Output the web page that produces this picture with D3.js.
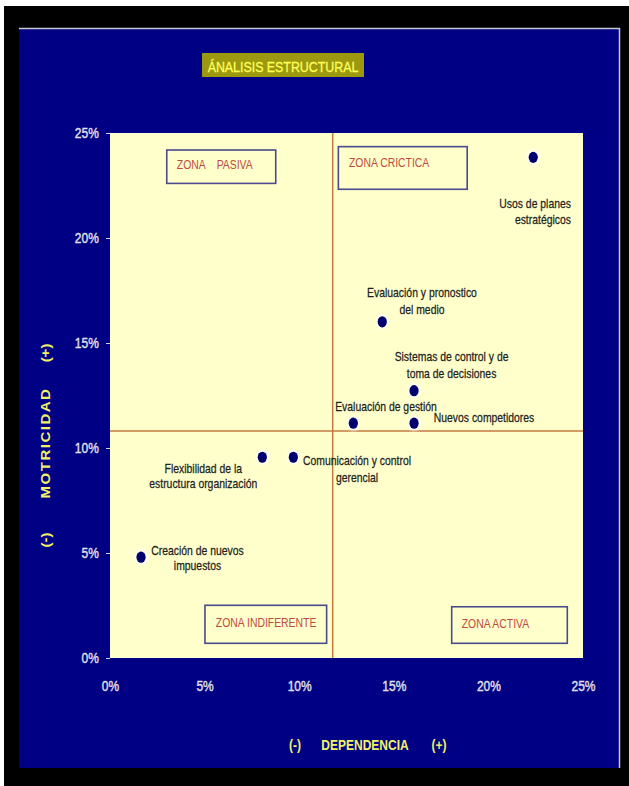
<!DOCTYPE html>
<html>
<head>
<meta charset="utf-8">
<script src="https://cdn.jsdelivr.net/npm/d3@7"></script>
<style>
  body { margin: 0; background: #ffffff; }
  svg { display: block; }
</style>
</head>
<body>
<svg id="chart" width="629" height="786"></svg>
<script>
// Factores del análisis estructural (dependencia vs. motricidad, en %)
const factors = [
  "Usos de planes\nestratégicos",
  "Evaluación y pronostico\ndel medio",
  "Sistemas de control y de\ntoma de decisiones",
  "Evaluación de gestión",
  "Nuevos competidores",
  "Comunicación y control\ngerencial",
  "Flexibilidad de la\nestructura organización",
  "Creación de nuevos\nimpuestos"
];
const dependencia = [22.37, 14.39, 16.07, 12.86, 16.07, 9.69, 8.05, 1.64];
const motricidad  = [23.84, 16.01, 12.73, 11.18, 11.18, 9.56, 9.56, 4.80];

const xTicks = [0, 5, 10, 15, 20, 25];
const yTicks = [0, 5, 10, 15, 20, 25];

// Ejes que dividen el plano en cuatro zonas
const corteDependencia = 11.77;
const corteMotricidad = 10.81;

const zonas = ["ZONA    PASIVA", "ZONA CRICTICA", "ZONA INDIFERENTE", "ZONA ACTIVA"];
const titulo = "ÁNALISIS ESTRUCTURAL";
const tituloX = ["(-)", "DEPENDENCIA", "(+)"];
const tituloY = ["(-)", "MOTRICIDAD", "(+)"];

// ---- layout ----
const SQ = 0.8; // condensed lettering
const plot = { left: 110, right: 583, top: 133, bottom: 658 };

const x = d3.scaleLinear().domain([0, 25]).range([plot.left, plot.right]);
const y = d3.scaleLinear().domain([0, 25]).range([plot.bottom, plot.top]);

// label placement relative to each point (px): anchor, dx, first-line dy, line gap
const labelLayout = [
  { anchor: "end",    dx: 37.7, dy: 50.7,  gap: 16 },
  { anchor: "middle", dx: 39.7, dy: -24.7, gap: 17 },
  { anchor: "middle", dx: 37.5, dy: -29.7, gap: 17 },
  { anchor: "middle", dx: 32.7, dy: -12.3, gap: 16 },
  { anchor: "middle", dx: 70,   dy: -1.3,  gap: 16 },
  { anchor: "middle", dx: 63.7, dy: 7.7,   gap: 17 },
  { anchor: "middle", dx: -59,  dy: 15.7,  gap: 15 },
  { anchor: "middle", dx: 56.5, dy: -2.3,  gap: 15 }
];

// zone boxes in data units: box extent and text anchor
const zoneLayout = [
  { x0: 3.00,  x1: 8.76,  y0: 24.19, y1: 22.60, tx: 3.53,  ty: 23.29, anchor: "start" },
  { x0: 12.07, x1: 18.88, y0: 24.35, y1: 22.32, tx: 12.63, ty: 23.38, anchor: "start" },
  { x0: 5.02,  x1: 11.45, y0: 2.51,  y1: 0.70,  tx: 8.25,  ty: 1.48,  anchor: "middle" },
  { x0: 18.06, x1: 24.17, y0: 2.44,  y1: 0.70,  tx: 18.59, ty: 1.45,  anchor: "start" }
];

const svg = d3.select("#chart");
const FONT = "'Liberation Sans', Arial, sans-serif";

// outer frame
svg.append("rect").attr("x", 0).attr("y", 0).attr("width", 629).attr("height", 786).attr("fill", "#ffffff");
svg.append("rect").attr("x", 4).attr("y", 6).attr("width", 625).attr("height", 780).attr("fill", "#000000");

// blue panel
svg.append("rect").attr("x", 19).attr("y", 28).attr("width", 600).attr("height", 740).attr("fill", "#000084");
svg.append("path").attr("d", "M19,28.5H619.5V768").attr("fill", "none").attr("stroke", "#c8c8d0").attr("stroke-width", 1.5);

// title
svg.append("rect").attr("x", 202).attr("y", 53).attr("width", 162).attr("height", 24).attr("fill", "#9c9810");
svg.append("text")
  .attr("transform", `translate(283,72) scale(${SQ},1)`)
  .attr("text-anchor", "middle")
  .attr("font-family", FONT).attr("font-size", 15.5)
  .attr("fill", "#ffff58").attr("stroke", "#ffff58").attr("stroke-width", 0.3)
  .text(titulo);

// plot area
svg.append("rect")
  .attr("x", plot.left).attr("y", plot.top)
  .attr("width", plot.right - plot.left).attr("height", plot.bottom - plot.top)
  .attr("fill", "#ffffcc");

// axes
const yAxis = svg.append("g")
  .attr("transform", `translate(${plot.left},0)`)
  .call(d3.axisLeft(y).tickValues(yTicks).tickSize(4).tickPadding(10).tickFormat(d => d + "%"));
const xAxis = svg.append("g")
  .attr("transform", `translate(0,${plot.bottom})`)
  .call(d3.axisBottom(x).tickValues(xTicks).tickSize(0).tickPadding(22).tickFormat(d => d + "%"));

[yAxis, xAxis].forEach(g => {
  g.select(".domain").remove();
  g.selectAll(".tick line").attr("stroke", "#d0d0d8");
  g.selectAll(".tick text")
    .attr("font-family", FONT).attr("font-size", 15)
    .attr("fill", "#e0e0e6").attr("stroke", "#e0e0e6").attr("stroke-width", 0.4)
    .attr("transform", `scale(${SQ},1)`);
});

// quadrant dividers
svg.append("line")
  .attr("x1", x(corteDependencia)).attr("x2", x(corteDependencia))
  .attr("y1", y(25)).attr("y2", y(0))
  .attr("stroke", "#c47840").attr("stroke-width", 1.5);
svg.append("line")
  .attr("x1", x(0)).attr("x2", x(25))
  .attr("y1", y(corteMotricidad)).attr("y2", y(corteMotricidad))
  .attr("stroke", "#c47840").attr("stroke-width", 1.5);

// zone boxes
zoneLayout.forEach((z, i) => {
  svg.append("rect")
    .attr("x", x(z.x0)).attr("y", y(z.y0))
    .attr("width", x(z.x1) - x(z.x0)).attr("height", y(z.y1) - y(z.y0))
    .attr("fill", "#ffffcc").attr("stroke", "#4a4a8c").attr("stroke-width", 1.6);
  svg.append("text")
    .attr("transform", `translate(${x(z.tx)},${y(z.ty)}) scale(${SQ},1)`)
    .attr("text-anchor", z.anchor)
    .attr("font-family", FONT).attr("font-size", 13)
    .attr("fill", "#c04a40")
    .attr("xml:space", "preserve")
    .style("white-space", "pre")
    .text(zonas[i]);
});

// points
const defs = svg.append("defs");
defs.append("filter").attr("id", "halo").attr("x", "-1").attr("y", "-1").attr("width", "3").attr("height", "3")
  .append("feGaussianBlur").attr("stdDeviation", 1.6);

const data = factors.map((f, i) => ({ name: f, dx: dependencia[i], my: motricidad[i], lay: labelLayout[i] }));

svg.append("g").selectAll("ellipse").data(data).join("ellipse")
  .attr("cx", d => x(d.dx)).attr("cy", d => y(d.my))
  .attr("rx", 6.5).attr("ry", 7.5)
  .attr("fill", "#ffffff").attr("opacity", 0.8)
  .attr("filter", "url(#halo)");

svg.append("g").selectAll("ellipse").data(data).join("ellipse")
  .attr("cx", d => x(d.dx)).attr("cy", d => y(d.my))
  .attr("rx", 4.6).attr("ry", 5.6)
  .attr("fill", "#00006e");

// point labels
data.forEach(d => {
  const lines = d.name.split("\n");
  const px = x(d.dx) + d.lay.dx;
  lines.forEach((ln, k) => {
    svg.append("text")
      .attr("transform", `translate(${px},${y(d.my) + d.lay.dy + k * d.lay.gap}) scale(${SQ},1)`)
      .attr("text-anchor", d.lay.anchor)
      .attr("font-family", FONT).attr("font-size", 13)
      .attr("fill", "#1e1e1e").attr("stroke", "#1e1e1e").attr("stroke-width", 0.25)
      .text(ln);
  });
});

// axis titles
const titleStyle = sel => sel
  .attr("font-family", FONT).attr("font-size", 15).attr("font-weight", "bold")
  .attr("fill", "#f2f266").attr("text-anchor", "middle");

const xTitlePos = [295, 365, 439];
tituloX.forEach((t, i) => {
  svg.append("text")
    .attr("transform", `translate(${xTitlePos[i]},750) scale(${SQ},1)`)
    .call(titleStyle).text(t);
});

const yTitlePos = [540, 443, 353];
tituloY.forEach((t, i) => {
  svg.append("text")
    .attr("transform", `translate(50,${yTitlePos[i]}) scale(${SQ},1) rotate(-90)`)
    .call(titleStyle)
    .attr("letter-spacing", i === 1 ? 1.5 : 0)
    .text(t);
});
</script>
</body>
</html>
